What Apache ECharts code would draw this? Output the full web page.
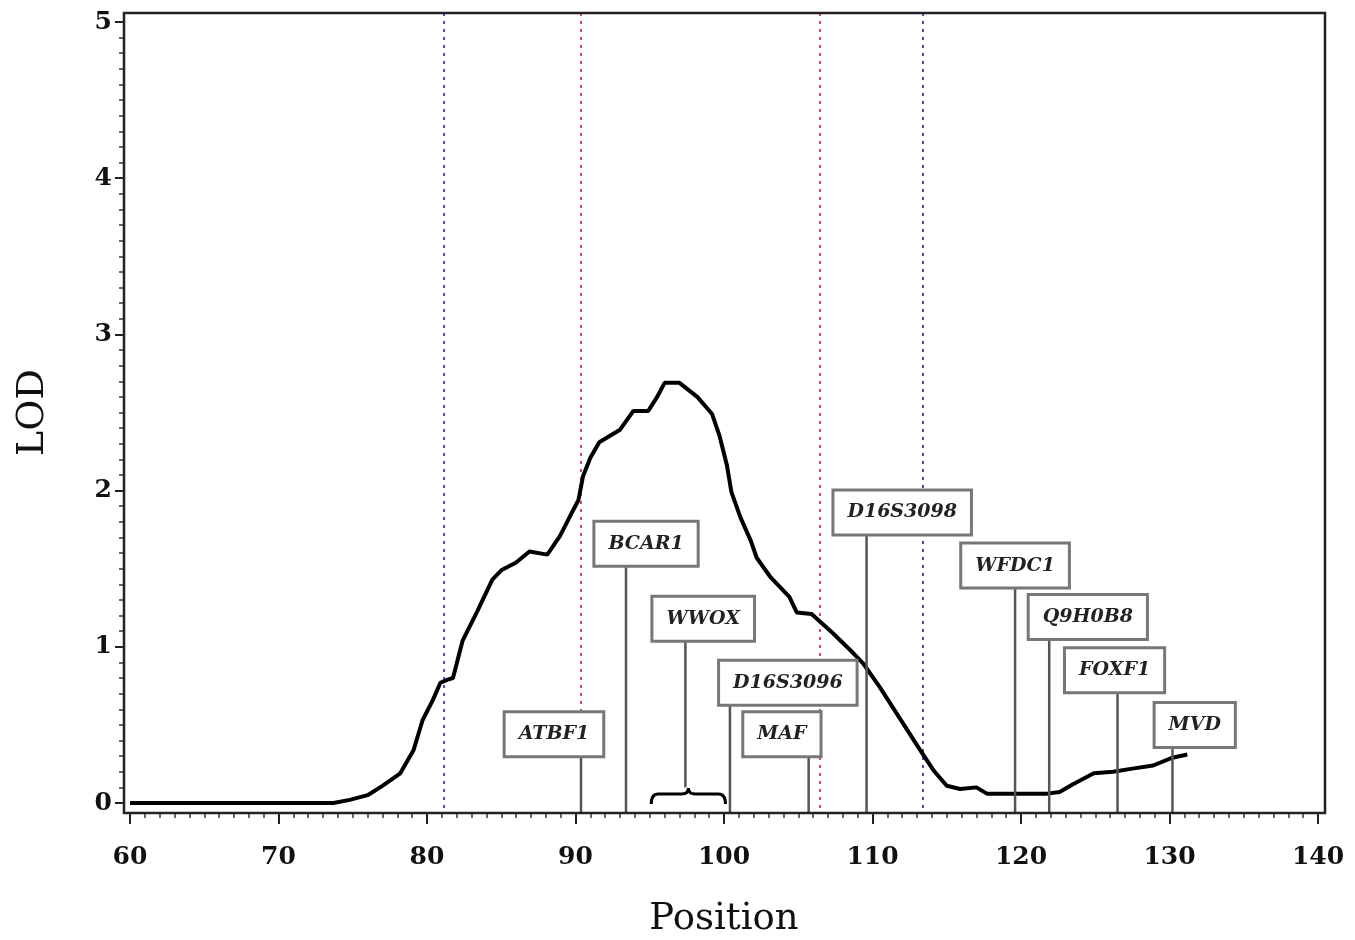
<!DOCTYPE html>
<html>
<head>
<meta charset="utf-8">
<script src="https://cdn.jsdelivr.net/npm/echarts@6/dist/echarts.min.js"></script>
<style>
html,body{margin:0;padding:0;background:#fff;}
#chart{width:1355px;height:940px;}
</style>
</head>
<body>
<div id="chart"></div>
<script>
// LOD curve
var positions = [60, 73.7, 74.8, 76.0, 77.0, 78.2, 79.1, 79.7, 80.4, 80.9, 81.4, 81.75, 82.4, 83.4, 84.4, 85.0, 86.0, 86.9, 88.1, 88.96, 89.6, 90.2, 90.5, 91.0, 91.6, 92.3, 93.0, 93.9, 94.9, 95.5, 96.0, 97.0, 98.2, 99.2, 99.7, 100.2, 100.5, 101.1, 101.8, 102.2, 103.1, 104.4, 104.9, 105.9, 107.3, 108.7, 109.4, 110.5, 111.85, 113.2, 114.1, 115.0, 115.9, 117.0, 117.7, 119.5, 121.75, 122.6, 123.5, 124.9, 126.2, 127.5, 128.9, 130.2, 131.2];
var lodValues = [0, 0, 0.02, 0.05, 0.11, 0.19, 0.34, 0.53, 0.66, 0.77, 0.79, 0.80, 1.04, 1.23, 1.43, 1.49, 1.54, 1.61, 1.59, 1.71, 1.83, 1.94, 2.09, 2.21, 2.31, 2.35, 2.39, 2.51, 2.51, 2.60, 2.69, 2.69, 2.60, 2.49, 2.35, 2.16, 1.99, 1.83, 1.68, 1.57, 1.45, 1.32, 1.22, 1.21, 1.09, 0.96, 0.89, 0.74, 0.54, 0.34, 0.21, 0.11, 0.09, 0.10, 0.06, 0.06, 0.06, 0.07, 0.12, 0.19, 0.20, 0.22, 0.24, 0.29, 0.31];

// Gene / marker annotations
var markerNames = ['ATBF1', 'BCAR1', 'WWOX', 'D16S3096', 'MAF', 'D16S3098', 'WFDC1', 'Q9H0B8', 'FOXF1', 'MVD'];
var markerPos   = [90.37, 93.4, 97.4, 100.4, 105.7, 109.6, 119.6, 121.9, 126.5, 130.2];
var labelX      = [88.55, 94.75, 98.6, 104.3, 103.9, 112.0, 119.6, 124.5, 126.3, 131.7];
var labelY      = [0.44, 1.66, 1.18, 0.77, 0.44, 1.86, 1.52, 1.19, 0.85, 0.50];
var lineBottom  = [0, 0, 0.10, 0, 0, 0, 0, 0, 0, 0];

// WWOX span brace
var braceStart = [95.1];
var braceEnd   = [100.1];

// interval lines
var redLines  = [90.37, 106.46];
var blueLines = [81.15, 113.4];

var xTicks = [60, 70, 80, 90, 100, 110, 120, 130, 140];
var yTicks = [0, 1, 2, 3, 4, 5];

var chart = echarts.init(document.getElementById('chart'));
var serif = '"DejaVu Serif", "Liberation Serif", serif';

var vlineData = redLines.map(function (v) { return [v, 0]; })
  .concat(blueLines.map(function (v) { return [v, 1]; }));

var option = {
  backgroundColor: '#fff',
  animation: false,
  grid: [
    {left: 130, right: 37, top: 22, bottom: 137, containLabel: false, outerBoundsMode: 'none'},
    {left: 124, right: 30, top: 13, bottom: 127, show: true, borderColor: '#222', borderWidth: 2.5, backgroundColor: 'transparent', z: 10, outerBoundsMode: 'none'}
  ],
  xAxis: [
    {
      type: 'value', gridIndex: 0, min: xTicks[0], max: xTicks[xTicks.length - 1], interval: 10,
      offset: 10,
      axisLine: {show: false, onZero: false},
      axisTick: {show: true, length: 11, lineStyle: {color: '#222', width: 2}},
      minorTick: {show: true, splitNumber: 10, length: 5, lineStyle: {color: '#333', width: 1.5}},
      splitLine: {show: false},
      axisLabel: {fontFamily: serif, fontSize: 25, color: '#111', margin: 32, fontWeight: 'bold'},
      name: 'Position', nameLocation: 'middle', nameGap: 88,
      nameTextStyle: {fontFamily: serif, fontSize: 37, color: '#111'}
    },
    {type: 'value', gridIndex: 1, show: false, min: 0, max: 1}
  ],
  yAxis: [
    {
      type: 'value', gridIndex: 0, min: yTicks[0], max: yTicks[yTicks.length - 1], interval: 1,
      offset: 6,
      axisLine: {show: false, onZero: false},
      axisTick: {show: true, length: 9, lineStyle: {color: '#222', width: 2}},
      minorTick: {show: true, splitNumber: 10, length: 5, lineStyle: {color: '#333', width: 1.5}},
      splitLine: {show: false},
      axisLabel: {fontFamily: serif, fontSize: 25, color: '#111', margin: 12, fontWeight: 'bold'},
      name: 'LOD', nameLocation: 'middle', nameGap: 72, nameRotate: 90,
      nameTextStyle: {fontFamily: serif, fontSize: 38, color: '#111'}
    },
    {type: 'value', gridIndex: 1, show: false, min: 0, max: 1}
  ],
  series: [
    {
      type: 'custom',
      name: 'intervals',
      xAxisIndex: 0, yAxisIndex: 0,
      clip: false,
      data: vlineData,
      renderItem: function (params, api) {
        var top = api.coord([api.value(0), 5]);
        var bot = api.coord([api.value(0), 0]);
        var color = api.value(1) === 0 ? '#c84878' : '#4c4cb4';
        return {
          type: 'line',
          shape: {x1: top[0], y1: top[1] - 9, x2: bot[0], y2: bot[1] + 10},
          style: {stroke: color, lineWidth: 2, lineDash: [3, 5]},
          z2: 1
        };
      },
      z: 1
    },
    {
      type: 'line',
      name: 'LOD',
      xAxisIndex: 0, yAxisIndex: 0,
      data: positions.map(function (p, i) { return [p, lodValues[i]]; }),
      showSymbol: false,
      lineStyle: {color: '#000', width: 4},
      itemStyle: {color: '#000'},
      z: 3
    },
    {
      type: 'custom',
      name: 'brace',
      xAxisIndex: 0, yAxisIndex: 0,
      clip: false,
      data: braceStart.map(function (s, i) { return [s, braceEnd[i]]; }),
      renderItem: function (params, api) {
        var a = api.coord([api.value(0), 0]);
        var b = api.coord([api.value(1), 0]);
        var y0 = a[1] + 1, yf = a[1] - 9, yp = a[1] - 15;
        var xm = (a[0] + b[0]) / 2;
        var r = 7;
        var d = 'M' + a[0] + ' ' + y0 +
          ' Q' + a[0] + ' ' + yf + ' ' + (a[0] + r) + ' ' + yf +
          ' L' + (xm - r) + ' ' + yf +
          ' Q' + xm + ' ' + yf + ' ' + xm + ' ' + yp +
          ' Q' + xm + ' ' + yf + ' ' + (xm + r) + ' ' + yf +
          ' L' + (b[0] - r) + ' ' + yf +
          ' Q' + b[0] + ' ' + yf + ' ' + b[0] + ' ' + y0;
        return {
          type: 'path',
          shape: {pathData: d},
          style: {stroke: '#000', lineWidth: 3, fill: null}
        };
      },
      z: 4
    },
    {
      type: 'custom',
      name: 'markers',
      xAxisIndex: 0, yAxisIndex: 0,
      clip: false,
      data: markerPos.map(function (p, i) { return [p, labelX[i], labelY[i], lineBottom[i], i]; }),
      renderItem: function (params, api) {
        var idx = api.value(4);
        var lab = api.coord([api.value(1), api.value(2)]);
        var base = api.coord([api.value(0), api.value(3)]);
        var yEnd = api.value(3) === 0 ? base[1] + 10 : base[1];
        var halfH = 23;
        return {
          type: 'group',
          children: [
            {
              type: 'line',
              shape: {x1: base[0], y1: lab[1] + halfH, x2: base[0], y2: yEnd},
              style: {stroke: '#555', lineWidth: 2.5},
              z2: 1
            },
            {
              type: 'text',
              x: lab[0], y: lab[1],
              style: {
                text: markerNames[idx],
                font: 'italic bold 19px "DejaVu Serif"',
                fill: '#222',
                align: 'center',
                verticalAlign: 'middle',
                backgroundColor: '#fff',
                borderColor: '#777',
                borderWidth: 3,
                padding: [12, 13, 11, 13]
              },
              z2: 2
            }
          ]
        };
      },
      z: 5
    }
  ]
};
chart.setOption(option);
</script>
</body>
</html>
